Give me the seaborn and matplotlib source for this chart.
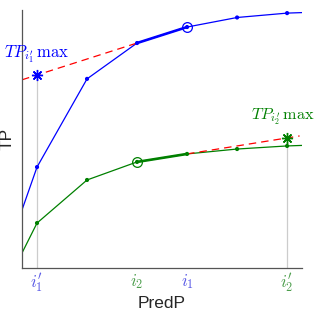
import numpy as np
import pandas as pd
import matplotlib
matplotlib.use('Agg')
import matplotlib.pyplot as plt
import seaborn as sns

# data (TP on a 0-100 scale)
pred_p = [0.7, 1, 2, 3, 4, 5, 6, 6.3]
tp_blue = [22.5, 39.1, 73.3, 87.2, 93.4, 97.1, 98.8, 99.0]
tp_green = [5.8, 17.4, 34.1, 41.1, 44.2, 46.1, 47.3, 47.5]
tick_pos = [1, 2, 3, 4, 5, 6]
tick_labels = [r"$i_1^{\prime}$", "", r"$i_2$", r"$i_1$", "", r"$i_2^{\prime}$"]
tick_colors = ["#5a5ae6", "k", "#4c9e4c", "#5a5ae6", "k", "#4c9e4c"]

blue = "#0000ff"
green = "#008000"

sns.set_style("white")
plt.rcParams["font.family"] = ["Liberation Sans", "DejaVu Sans"]
plt.rcParams["mathtext.fontset"] = "cm"

df = pd.DataFrame({
    "PredP": pred_p * 2,
    "TP": tp_blue + tp_green,
    "curve": ["c1"] * len(pred_p) + ["c2"] * len(pred_p),
})

fig = plt.figure(figsize=(3.19, 3.13), dpi=100)
ax = fig.add_axes([0.069, 0.144, 0.878, 0.824])

sns.lineplot(data=df, x="PredP", y="TP", hue="curve", palette=[blue, green],
             linewidth=0.9, legend=False, ax=ax, sort=False)

# small dots at the inner points
dots = df[(df["PredP"] >= 1) & (df["PredP"] <= 6)]
sns.scatterplot(data=dots, x="PredP", y="TP", hue="curve", palette=[blue, green],
                s=9, linewidth=0, legend=False, ax=ax, zorder=4)

# thick segment between x=3 and x=4
ax.plot(pred_p[3:5], tp_blue[3:5], color=blue, lw=1.9, zorder=3)
ax.plot(pred_p[3:5], tp_green[3:5], color=green, lw=1.9, zorder=3)

# circles
ax.plot(pred_p[4], tp_blue[4], "o", mfc="none", mec=blue, ms=7, mew=0.9, zorder=5)
ax.plot(pred_p[3], tp_green[3], "o", mfc="none", mec=green, ms=7, mew=0.9, zorder=5)

# tangent extensions (red dashed)
sb = tp_blue[4] - tp_blue[3]
xb = np.array([0.7, 3.0])
ax.plot(xb, tp_blue[3] + sb * (xb - 3), color="red", ls=(0, (6, 4)), lw=0.9, zorder=2)
sg = tp_green[4] - tp_green[3]
xg = np.array([4.0, 6.25])
ax.plot(xg, tp_green[3] + sg * (xg - 3), color="red", ls=(0, (6, 4)), lw=0.9, zorder=2)

# TP max stars and their gray guide lines
yb_star = tp_blue[3] + sb * (1 - 3)
yg_star = tp_green[3] + sg * (6 - 3)
ax.plot([1, 1], [0, yb_star], color="#cccccc", lw=0.9, zorder=1)
ax.plot([6, 6], [0, yg_star], color="#cccccc", lw=0.9, zorder=1)
ax.plot(1, yb_star, marker=(8, 2, 0), color=blue, ms=8, mew=1.0, zorder=5)
ax.plot(6, yg_star, marker=(8, 2, 0), color=green, ms=8, mew=1.0, zorder=5)

ax.text(0.34, 81.8, r"$TP_{i_1^{\prime}}\,\max$", color=blue, fontsize=12, va="baseline")
ax.text(5.27, 57.8, r"$TP_{i_2^{\prime}}\,\max$", color=green, fontsize=11.7, va="baseline")

ax.set_xlim(0.7, 6.3)
ax.set_ylim(0, 100)
ax.set_xticks(tick_pos)
ax.set_xticklabels(tick_labels, fontsize=12.5)
for lab, c in zip(ax.get_xticklabels(), tick_colors):
    lab.set_color(c)
ax.set_yticks([])
ax.tick_params(axis="x", direction="in", length=3, width=0.8, pad=3, color="#444444")

sns.despine(ax=ax)
for side in ["left", "bottom"]:
    ax.spines[side].set_color("#555555")
    ax.spines[side].set_linewidth(0.9)

ax.set_xlabel("PredP", fontsize=12.5)
ax.set_ylabel("TP", fontsize=12.5)
ax.xaxis.set_label_coords(0.5, -0.11)
ax.yaxis.set_label_coords(-0.025, 0.5)

fig.savefig("out.png", dpi=100)
